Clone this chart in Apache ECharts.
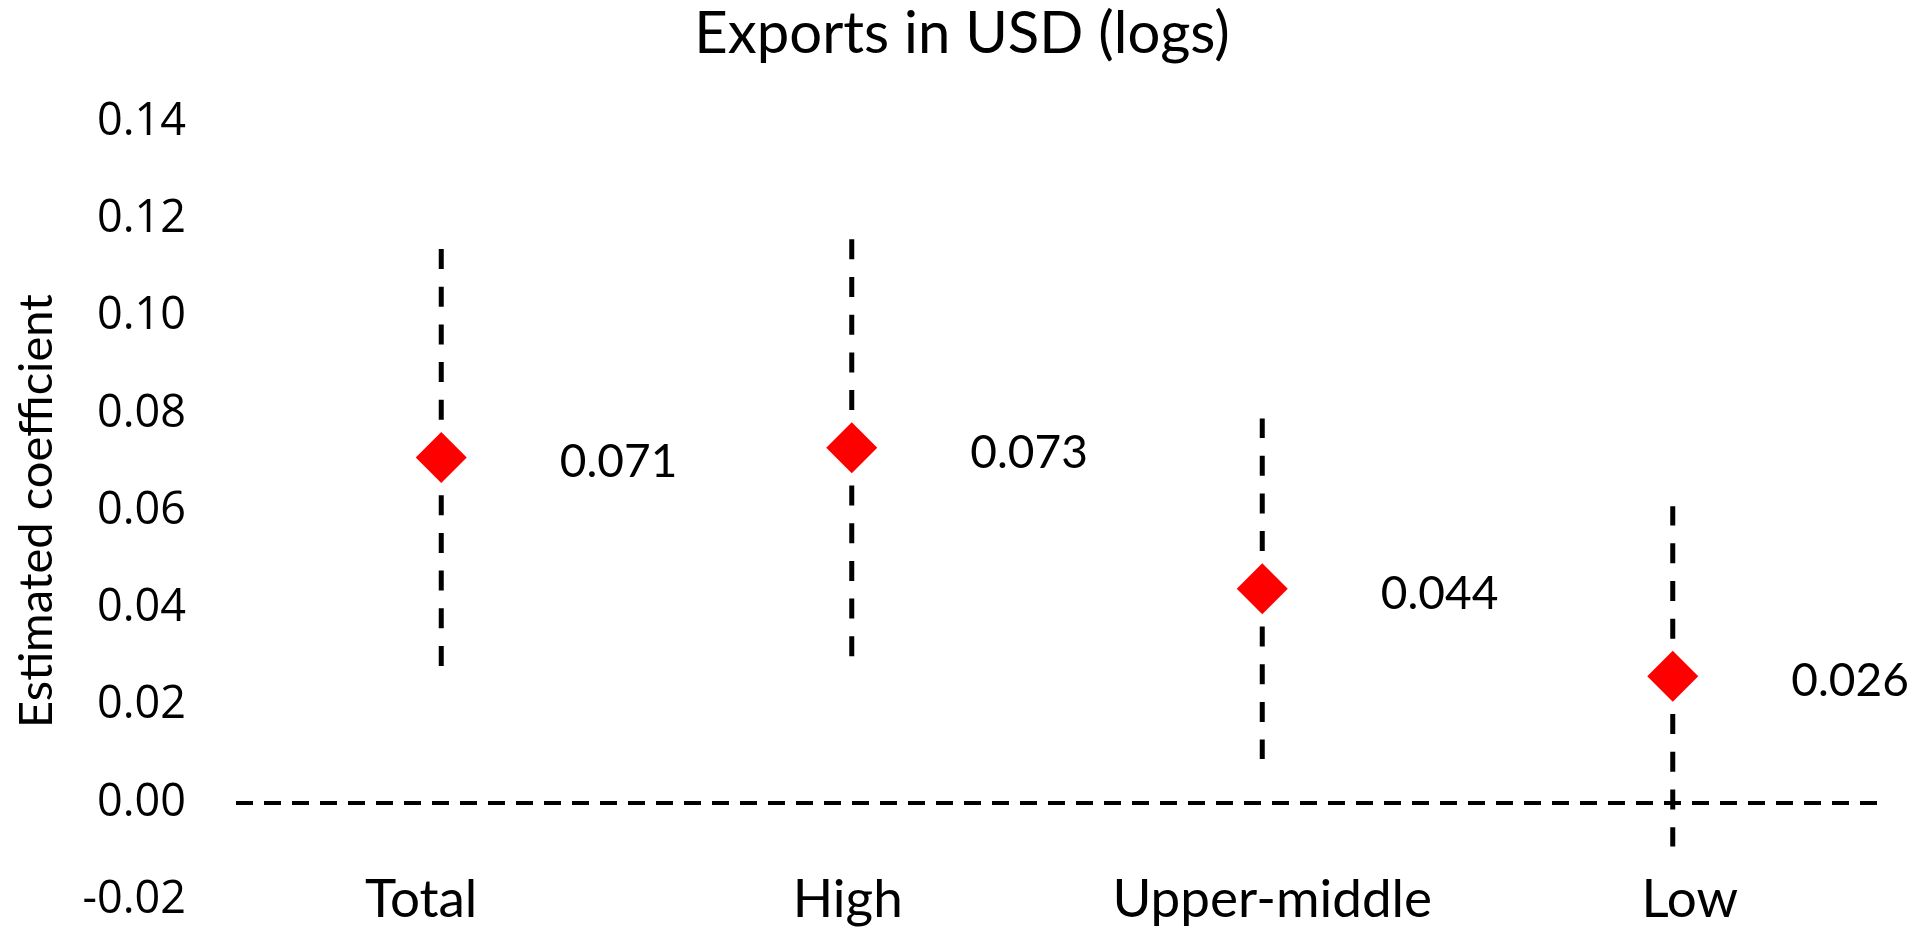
<!DOCTYPE html>
<html>
<head>
<meta charset="utf-8">
<title>Exports in USD (logs)</title>
<script src="https://cdn.jsdelivr.net/npm/echarts@6/dist/echarts.min.js"></script>
<style>
  html, body { margin: 0; padding: 0; background: #ffffff; }
  #chart { width: 1931px; height: 929px; }
</style>
</head>
<body>
<div id="chart"></div>
<script>
// Income groups on the horizontal axis
const categories = ['Total', 'High', 'Upper-middle', 'Low'];
// Point estimates of the coefficient
const estimates = [0.071, 0.073, 0.044, 0.026];
// Confidence interval bounds
const lowerBounds = [0.028, 0.030, 0.009, -0.009];
const upperBounds = [0.114, 0.116, 0.079, 0.061];
// Value axis range and step
const yMin = -0.02, yMax = 0.14, yStep = 0.02;

// Per-label horizontal nudges for the category names (padding left/right)
const catShift = { 'Total': [0, 40], 'High': [0, 8], 'Upper-middle': [20, 0], 'Low': [34, 0] };

const chart = echarts.init(document.getElementById('chart'), null, { renderer: 'canvas' });

const errData = categories.map((c, i) => [i, estimates[i], lowerBounds[i], upperBounds[i]]);

const richCats = {};
categories.forEach((c, i) => {
  const p = catShift[c] || [0, 0];
  richCats['c' + i] = {
    fontFamily: 'Lato', fontSize: 53, color: '#000',
    padding: [0, p[1], 0, p[0]]
  };
});

const option = {
  backgroundColor: '#ffffff',
  animation: false,
  title: {
    text: 'Exports in USD (logs)',
    left: 957,
    top: 0,
    textAlign: 'center',
    textStyle: { fontFamily: 'Lato', fontSize: 58, fontWeight: 'normal', color: '#000' }
  },
  grid: { left: 236, right: 53, top: 122, bottom: 29 },
  xAxis: {
    type: 'category',
    data: categories,
    boundaryGap: true,
    axisLine: { show: false },
    axisTick: { show: false },
    splitLine: { show: false },
    axisLabel: {
      margin: 0,
      verticalAlign: 'middle',
      interval: 0,
      formatter: (v, i) => '{c' + i + '|' + v + '}',
      rich: richCats
    }
  },
  yAxis: {
    type: 'value',
    min: yMin,
    max: yMax,
    interval: yStep,
    name: 'Estimated coefficient',
    nameLocation: 'middle',
    nameGap: 176,
    nameTextStyle: { fontFamily: 'Lato', fontSize: 47, color: '#000' },
    axisLine: { show: false },
    axisTick: { show: false },
    splitLine: { show: false },
    axisLabel: {
      margin: 50,
      fontFamily: 'Open Sans',
      fontSize: 45,
      color: '#000',
      formatter: v => v.toFixed(2)
    }
  },
  series: [
    {
      // Confidence intervals: dashed segments drawn outward from each estimate
      type: 'custom',
      data: errData,
      z: 2,
      renderItem: (params, api) => {
        const x = api.value(0);
        const c = api.coord([x, api.value(1)]);
        const lo = api.coord([x, api.value(2)]);
        const hi = api.coord([x, api.value(3)]);
        const style = { stroke: '#000', lineWidth: 5, lineDash: [20, 17.7], fill: null };
        return {
          type: 'group',
          children: [
            { type: 'line', shape: { x1: c[0], y1: c[1], x2: hi[0], y2: hi[1] }, style: style },
            { type: 'line', shape: { x1: c[0], y1: c[1], x2: lo[0], y2: lo[1] }, style: style }
          ]
        };
      }
    },
    {
      type: 'scatter',
      data: estimates,
      z: 5,
      symbol: 'diamond',
      symbolSize: [51, 51],
      itemStyle: { color: '#ff0000', opacity: 1 },
      label: {
        show: true,
        position: 'right',
        distance: 93,
        offset: [0, 5],
        fontFamily: 'Lato',
        fontSize: 46,
        color: '#000',
        opacity: 1,
        formatter: p => p.value.toFixed(3)
      },
      markLine: {
        silent: true,
        symbol: 'none',
        label: { show: false },
        lineStyle: { color: '#000', width: 4, type: [17, 11], opacity: 1 },
        data: [{ yAxis: 0 }]
      }
    }
  ]
};

chart.setOption(option);
</script>
</body>
</html>
